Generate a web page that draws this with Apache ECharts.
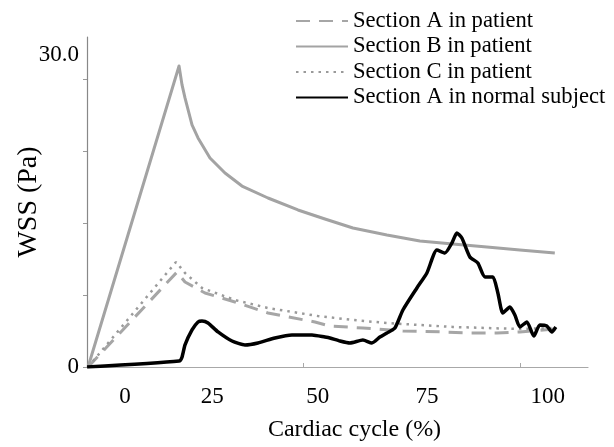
<!DOCTYPE html>
<html>
<head>
<meta charset="utf-8">
<script src="https://cdn.jsdelivr.net/npm/echarts@6/dist/echarts.min.js"></script>
<style>
html,body{margin:0;padding:0;background:#fff;}
#chart{width:614px;height:447px;}
</style>
</head>
<body>
<div id="chart"></div>
<script>
// Series names
const seriesNames = ['Section A in patient', 'Section B in patient', 'Section C in patient', 'Section A in normal subject'];

// Values: [cardiac cycle, WSS (Pa)]
const sectionAPatient = [
  [-8.75, 0], [12.29, 9.13], [14.18, 8.17], [18.91, 7.12], [26.0, 6.25], [33.81, 5.19],
  [44.92, 4.33], [48.46, 3.94], [56.26, 3.75], [65.72, 3.46], [75.18, 3.37], [81.56, 3.27],
  [87.94, 3.27], [93.38, 3.37], [101.65, 3.65]
];
const sectionBPatient = [
  [-8.75, 0], [12.77, 28.94], [13.48, 27.12], [14.18, 25.87], [15.84, 23.27], [17.26, 22.02],
  [20.09, 20.10], [23.64, 18.65], [27.66, 17.40], [33.81, 16.25], [40.90, 15.10], [47.28, 14.23],
  [53.90, 13.37], [61.94, 12.69], [69.74, 12.12], [77.54, 11.83], [85.58, 11.54], [93.38, 11.25],
  [101.65, 10.96]
];
const sectionCPatient = [
  [-8.75, 0], [12.06, 10.10], [14.18, 9.04], [18.20, 7.60], [26.0, 6.44], [33.81, 5.67],
  [45.63, 4.90], [53.90, 4.52], [61.94, 4.23], [69.74, 4.04], [77.54, 3.85], [85.58, 3.75],
  [93.38, 3.65], [101.65, 3.75]
];
const sectionANormal = [
  [-8.98, 0], [12.77, 0.58], [13.48, 0.96], [14.18, 2.12], [15.84, 3.56], [17.26, 4.33],
  [18.20, 4.42], [19.62, 4.23], [21.99, 3.37], [25.30, 2.50], [28.37, 2.12], [31.44, 2.31],
  [35.46, 2.79], [39.48, 3.08], [44.21, 3.08], [47.28, 2.88], [48.46, 2.79], [50.83, 2.50],
  [53.19, 2.31], [56.26, 2.60], [58.39, 2.31], [60.28, 2.88], [61.94, 3.27], [63.83, 3.75],
  [65.72, 5.48], [69.03, 7.60], [71.39, 9.04], [73.76, 11.25], [75.65, 10.96], [77.30, 11.92],
  [78.49, 12.88], [79.67, 12.40], [81.56, 10.58], [83.45, 10.00], [85.11, 8.65], [87.00, 8.65],
  [88.18, 7.12], [89.36, 5.19], [91.02, 5.77], [92.20, 5.00], [93.38, 3.85], [95.04, 4.33],
  [96.69, 2.98], [98.11, 4.04], [99.76, 3.94], [100.95, 3.37], [101.89, 3.85]
];

// Tick labels as printed in the figure (x labels sit where the figure prints them)
const xTickLabelValues = [0, 20.6, 45.6, 71.4, 100];
const xTickLabelTexts = ['0', '25', '50', '75', '100'];
const xTickMarkValues = [42.1, 93.4];
const yTickLabelValues = [0, 30];
const yTickLabelTexts = ['0', '30.0'];
const yTickMarkValues = [0, 6.92, 13.85, 20.77, 27.69];

const FONT = 'Liberation Serif';
const chart = echarts.init(document.getElementById('chart'), null, {renderer: 'canvas'});

chart.setOption({
  backgroundColor: '#ffffff',
  animation: false,
  textStyle: {fontFamily: FONT, color: '#000'},
  grid: {left: 87, right: 26, top: 37, bottom: 80, containLabel: false, outerBoundsMode: 'none'},
  legend: {
    orient: 'vertical',
    left: 295,
    top: 9.5,
    padding: 0,
    itemWidth: 52,
    itemHeight: 14,
    itemGap: 2.5,
    itemStyle: {opacity: 0},
    textStyle: {fontFamily: FONT, fontSize: 22.6, color: '#000', lineHeight: 23},
    data: seriesNames
  },
  xAxis: {
    type: 'value',
    min: -9,
    max: 109.5,
    name: 'Cardiac cycle (%)',
    nameLocation: 'middle',
    nameGap: 51,
    nameMoveOverlap: false,
    nameTextStyle: {fontFamily: FONT, fontSize: 24, color: '#000', padding: [0, 0, 0, 34]},
    axisLine: {show: true, onZero: false, lineStyle: {color: '#a8a8a8', width: 1.2}},
    axisTick: {show: true, inside: true, length: 4, customValues: xTickMarkValues, lineStyle: {color: '#a8a8a8'}},
    axisLabel: {
      customValues: xTickLabelValues,
      margin: 18,
      fontFamily: FONT, fontSize: 23, color: '#000',
      formatter: function (v) {
        const i = xTickLabelValues.indexOf(v);
        return i >= 0 ? xTickLabelTexts[i] : '';
      }
    },
    splitLine: {show: false}
  },
  yAxis: {
    type: 'value',
    min: 0,
    max: 31.73,
    name: 'WSS (Pa)',
    nameLocation: 'middle',
    nameGap: 44,
    nameRotate: 90,
    nameMoveOverlap: false,
    nameTextStyle: {fontFamily: FONT, fontSize: 28, color: '#000'},
    axisLine: {show: true, onZero: false, lineStyle: {color: '#888', width: 1.2}},
    axisTick: {show: true, inside: false, length: 4, customValues: yTickMarkValues, lineStyle: {color: '#999'}},
    axisLabel: {
      customValues: yTickLabelValues,
      margin: 8,
      fontFamily: FONT, fontSize: 23, color: '#000',
      formatter: function (v) {
        const i = yTickLabelValues.indexOf(v);
        return i >= 0 ? yTickLabelTexts[i] : '';
      }
    },
    splitLine: {show: false}
  },
  series: [
    {
      name: seriesNames[0], type: 'line', data: sectionAPatient, symbol: 'none', smooth: false,
      lineStyle: {color: '#a6a6a6', width: 3, type: [14, 9]}, itemStyle: {color: '#a6a6a6'}, z: 3
    },
    {
      name: seriesNames[1], type: 'line', data: sectionBPatient, symbol: 'none', smooth: false,
      lineStyle: {color: '#a3a3a3', width: 3, join: 'round'}, itemStyle: {color: '#a3a3a3'}, z: 2
    },
    {
      name: seriesNames[2], type: 'line', data: sectionCPatient, symbol: 'none', smooth: false,
      lineStyle: {color: '#9a9a9a', width: 2.5, type: [2.5, 5]}, itemStyle: {color: '#9a9a9a'}, z: 4
    },
    {
      name: seriesNames[3], type: 'line', data: sectionANormal, symbol: 'none', smooth: 0.2,
      lineStyle: {color: '#000', width: 3.5, join: 'round'}, itemStyle: {color: '#000'}, z: 5
    }
  ]
});
</script>
</body>
</html>
